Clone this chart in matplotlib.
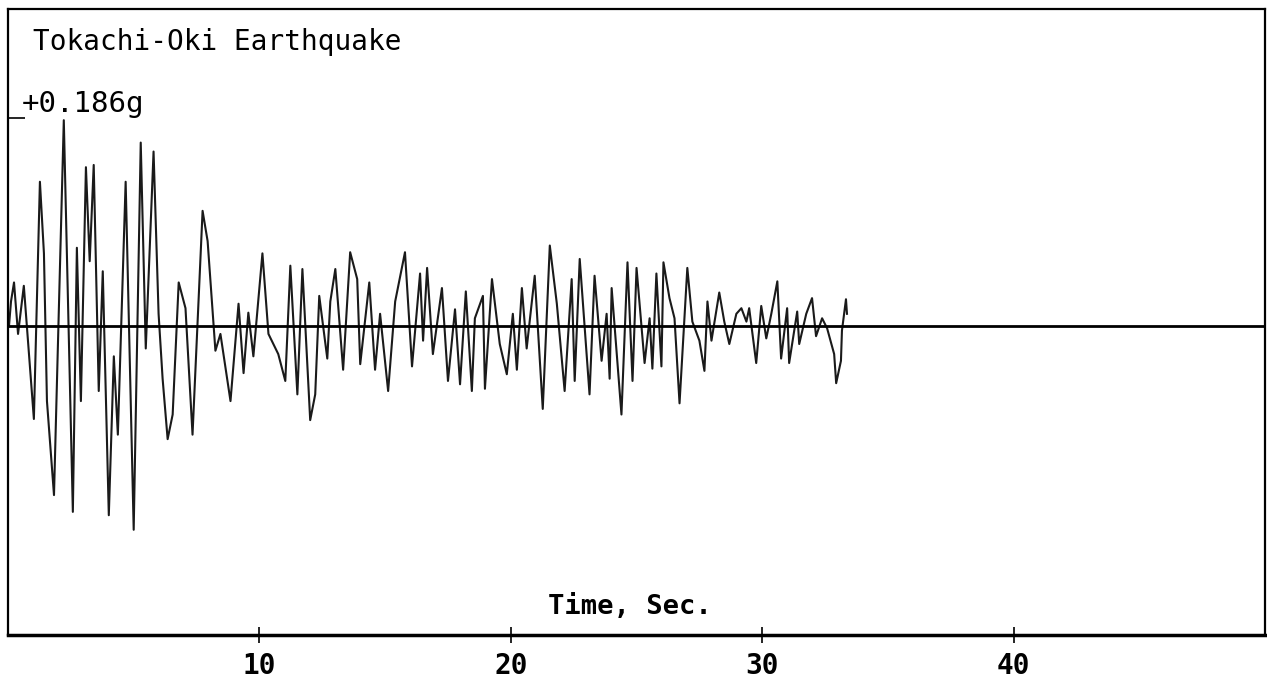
import matplotlib
matplotlib.use('Agg')
import matplotlib.pyplot as plt

# accelerogram (turning points), time in s, accel in g
time_s = [0.04, 0.12, 0.24, 0.40, 0.63, 1.03, 1.27, 1.43, 1.55, 1.83,
          2.22, 2.58, 2.74, 2.90, 3.10, 3.25, 3.41, 3.61, 3.77, 4.01,
          4.21, 4.37, 4.68, 5.00, 5.28, 5.48, 5.79, 5.99, 6.15, 6.35,
          6.55, 6.79, 7.06, 7.34, 7.74, 7.94, 8.25, 8.45, 8.85, 9.17,
          9.37, 9.56, 9.76, 10.12, 10.36, 10.75, 11.03, 11.23, 11.51, 11.71,
          12.02, 12.22, 12.38, 12.70, 12.82, 13.02, 13.33, 13.61, 13.89, 14.01,
          14.37, 14.60, 14.80, 15.12, 15.40, 15.79, 16.07, 16.39, 16.51, 16.67,
          16.90, 17.26, 17.50, 17.78, 17.98, 18.21, 18.45, 18.57, 18.89, 18.97,
          19.25, 19.56, 19.84, 20.08, 20.24, 20.44, 20.63, 20.95, 21.27, 21.55,
          21.83, 22.14, 22.42, 22.54, 22.74, 23.13, 23.33, 23.61, 23.81, 23.93,
          24.01, 24.40, 24.64, 24.84, 25.00, 25.32, 25.52, 25.63, 25.79, 25.99,
          26.07, 26.31, 26.51, 26.71, 27.02, 27.22, 27.50, 27.70, 27.82, 27.98,
          28.29, 28.49, 28.69, 28.97, 29.17, 29.37, 29.48, 29.76, 29.96, 30.16,
          30.36, 30.60, 30.75, 30.99, 31.07, 31.39, 31.47, 31.75, 31.98, 32.14,
          32.38, 32.58, 32.86, 32.94, 33.13, 33.17, 33.33, 33.37]
accel_g = [0.000, 0.022, 0.039, -0.007, 0.036, -0.083, 0.129, 0.065, -0.067, -0.151,
           0.184, -0.166, 0.070, -0.067, 0.142, 0.058, 0.144, -0.058, 0.049, -0.169,
           -0.027, -0.097, 0.129, -0.182, 0.164, -0.020, 0.156, 0.011, -0.047, -0.101,
           -0.079, 0.039, 0.016, -0.097, 0.103, 0.076, -0.022, -0.007, -0.067, 0.020,
           -0.042, 0.012, -0.027, 0.065, -0.007, -0.025, -0.049, 0.054, -0.061, 0.051,
           -0.084, -0.061, 0.027, -0.029, 0.022, 0.051, -0.039, 0.066, 0.042, -0.034,
           0.039, -0.039, 0.011, -0.058, 0.022, 0.066, -0.036, 0.047, -0.013, 0.052,
           -0.025, 0.034, -0.049, 0.015, -0.052, 0.031, -0.058, 0.007, 0.027, -0.056,
           0.042, -0.016, -0.043, 0.011, -0.039, 0.034, -0.020, 0.045, -0.074, 0.072,
           0.020, -0.058, 0.042, -0.049, 0.060, -0.061, 0.045, -0.031, 0.011, -0.047,
           0.034, -0.079, 0.057, -0.049, 0.052, -0.033, 0.007, -0.038, 0.047, -0.036,
           0.057, 0.025, 0.007, -0.069, 0.052, 0.004, -0.013, -0.040, 0.022, -0.013,
           0.030, 0.004, -0.016, 0.011, 0.016, 0.004, 0.016, -0.033, 0.018, -0.011,
           0.011, 0.040, -0.029, 0.016, -0.033, 0.013, -0.016, 0.011, 0.025, -0.009,
           0.007, -0.002, -0.025, -0.051, -0.031, -0.004, 0.024, 0.011]

peak_g = 0.186
x_ticks = [10, 20, 30, 40]

mono = 'DejaVu Sans Mono'

fig = plt.figure(figsize=(12.67, 6.97), dpi=100)
ax = fig.add_axes([0.0063, 0.089, 0.9922, 0.8975])

ax.plot(time_s, accel_g, color='#1a1a1a', lw=1.5)
ax.axhline(0, color='black', lw=2)

ax.set_xlim(0, 50)
ax.set_ylim(-0.276, 0.283)

for side in ['left', 'right', 'top', 'bottom']:
    ax.spines[side].set_linewidth(1.6)
ax.spines['bottom'].set_linewidth(2.5)

ax.set_xticks(x_ticks)
ax.set_xticklabels([str(v) for v in x_ticks], family=mono, fontsize=20, fontweight='bold')
ax.tick_params(axis='x', direction='inout', length=12, width=1.2, pad=6)
ax.set_yticks([peak_g])
ax.set_yticklabels([''])
ax.tick_params(axis='y', direction='in', length=12, width=1.2)

ax.text(0.02, 0.97, 'Tokachi-Oki Earthquake', transform=ax.transAxes,
        family=mono, fontsize=20, va='top', ha='left')
ax.text(0.011, peak_g, '+0.186g', transform=ax.get_yaxis_transform(),
        family=mono, fontsize=21, va='bottom', ha='left')
ax.text(0.495, 0.024, 'Time, Sec.', transform=ax.transAxes,
        family=mono, fontsize=19.5, fontweight='bold', va='bottom', ha='center')

plt.savefig('out.png', dpi=100)
plt.close()
